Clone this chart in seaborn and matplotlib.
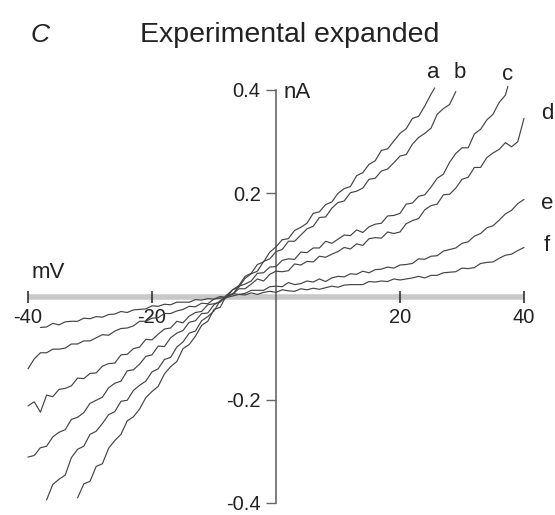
import matplotlib
matplotlib.use("Agg")
import matplotlib.pyplot as plt
import pandas as pd
import seaborn as sns

# ---- data (membrane potential in mV, current in nA) ----
a_mv = list(range(-32, 26)) + [25.6]
a_na = [-0.390, -0.363, -0.358, -0.329, -0.324, -0.294, -0.279, -0.267, -0.241, -0.233,
        -0.218, -0.196, -0.184, -0.174, -0.150, -0.136, -0.126, -0.101, -0.093, -0.077,
        -0.056, -0.048, -0.025, -0.021, 0.002, 0.013, 0.021, 0.039, 0.045, 0.062,
        0.067, 0.086, 0.096, 0.110, 0.112, 0.128, 0.134, 0.142, 0.161, 0.164,
        0.178, 0.183, 0.200, 0.209, 0.213, 0.234, 0.240, 0.256, 0.263, 0.283,
        0.286, 0.301, 0.316, 0.325, 0.345, 0.349, 0.369, 0.392, 0.404]

b_mv = list(range(-37, 30))
b_na = [-0.394, -0.364, -0.354, -0.346, -0.312, -0.296, -0.290, -0.267, -0.261, -0.246,
        -0.229, -0.223, -0.203, -0.201, -0.182, -0.172, -0.164, -0.146, -0.140, -0.122,
        -0.118, -0.098, -0.088, -0.071, -0.067, -0.047, -0.039, -0.028, -0.008, -0.002,
        0.013, 0.018, 0.035, 0.044, 0.049, 0.068, 0.073, 0.087, 0.091, 0.107,
        0.107, 0.119, 0.131, 0.136, 0.153, 0.154, 0.171, 0.182, 0.185, 0.201,
        0.204, 0.210, 0.227, 0.229, 0.243, 0.247, 0.259, 0.272, 0.275, 0.295,
        0.308, 0.316, 0.326, 0.353, 0.364, 0.372, 0.397]

c_mv = list(range(-40, 38)) + [37.4]
c_na = [-0.311, -0.308, -0.293, -0.290, -0.272, -0.263, -0.258, -0.238, -0.234, -0.225,
        -0.207, -0.201, -0.195, -0.177, -0.168, -0.164, -0.144, -0.142, -0.131, -0.116,
        -0.113, -0.096, -0.097, -0.080, -0.071, -0.066, -0.050, -0.047, -0.033, -0.032,
        -0.016, -0.009, 0.002, 0.004, 0.020, 0.024, 0.030, 0.045, 0.046, 0.057,
        0.058, 0.070, 0.073, 0.072, 0.086, 0.085, 0.094, 0.094, 0.107, 0.103,
        0.111, 0.119, 0.118, 0.129, 0.124, 0.135, 0.140, 0.142, 0.156, 0.157,
        0.161, 0.179, 0.181, 0.194, 0.197, 0.212, 0.229, 0.237, 0.260, 0.277,
        0.288, 0.288, 0.315, 0.324, 0.342, 0.353, 0.376, 0.390, 0.407]

d_mv = list(range(-40, 41))
d_na = [-0.212, -0.204, -0.224, -0.191, -0.194, -0.180, -0.178, -0.173, -0.158, -0.159,
        -0.149, -0.148, -0.135, -0.130, -0.129, -0.113, -0.112, -0.101, -0.098, -0.083,
        -0.084, -0.073, -0.063, -0.061, -0.048, -0.051, -0.038, -0.031, -0.029, -0.016,
        -0.014, -0.011, 0.001, 0.004, 0.015, 0.015, 0.024, 0.034, 0.030, 0.043,
        0.049, 0.048, 0.050, 0.063, 0.061, 0.068, 0.067, 0.078, 0.076, 0.082,
        0.087, 0.095, 0.092, 0.102, 0.099, 0.112, 0.114, 0.113, 0.125, 0.122,
        0.125, 0.141, 0.147, 0.151, 0.168, 0.176, 0.179, 0.197, 0.198, 0.210,
        0.227, 0.231, 0.250, 0.250, 0.269, 0.278, 0.285, 0.298, 0.290, 0.300,
        0.345]

e_mv = list(range(-40, 41))
e_na = [-0.140, -0.121, -0.109, -0.109, -0.102, -0.102, -0.100, -0.092, -0.092, -0.086,
        -0.086, -0.080, -0.074, -0.075, -0.067, -0.062, -0.061, -0.057, -0.048, -0.048,
        -0.042, -0.041, -0.033, -0.033, -0.028, -0.025, -0.019, -0.020, -0.013, -0.014,
        -0.005, -0.003, -0.002, 0.006, 0.004, 0.006, 0.012, 0.012, 0.012, 0.019,
        0.020, 0.019, 0.027, 0.023, 0.025, 0.030, 0.028, 0.034, 0.029, 0.036,
        0.039, 0.038, 0.044, 0.043, 0.049, 0.046, 0.052, 0.053, 0.057, 0.055,
        0.061, 0.062, 0.064, 0.073, 0.072, 0.078, 0.079, 0.088, 0.091, 0.094,
        0.103, 0.106, 0.117, 0.122, 0.133, 0.137, 0.148, 0.160, 0.167, 0.180,
        0.188]

f_mv = list(range(-38, 41))
f_na = [-0.060, -0.059, -0.052, -0.055, -0.049, -0.048, -0.048, -0.042, -0.043, -0.039,
        -0.040, -0.035, -0.034, -0.029, -0.031, -0.026, -0.025, -0.024, -0.018, -0.019,
        -0.015, -0.016, -0.011, -0.011, -0.011, -0.006, -0.007, -0.004, -0.005, 0.000,
        -0.002, 0.001, 0.004, 0.003, 0.007, 0.004, 0.008, 0.010, 0.008, 0.013,
        0.011, 0.010, 0.015, 0.013, 0.016, 0.014, 0.017, 0.020, 0.018, 0.022,
        0.023, 0.023, 0.023, 0.029, 0.028, 0.030, 0.029, 0.034, 0.032, 0.034,
        0.036, 0.039, 0.036, 0.041, 0.041, 0.046, 0.047, 0.048, 0.055, 0.054,
        0.056, 0.064, 0.066, 0.067, 0.074, 0.080, 0.082, 0.089, 0.095]

trace_names = ["a", "b", "c", "d", "e", "f"]
x_ticks = [-40, -20, 20, 40]
y_ticks = [-0.4, -0.2, 0.2, 0.4]
y_tick_labels = ["-0.4", "-0.2", "0.2", "0.4"]
title_text = "Experimental expanded"
panel_letter = "C"

# ---- long-form table for seaborn ----
frames = []
for name, xs, ys in zip(trace_names,
                        [a_mv, b_mv, c_mv, d_mv, e_mv, f_mv],
                        [a_na, b_na, c_na, d_na, e_na, f_na]):
    frames.append(pd.DataFrame({"mV": xs, "nA": ys, "trace": name}))
df = pd.concat(frames, ignore_index=True)

sns.set_theme(style="white")
plt.rcParams["font.family"] = ["Liberation Sans", "DejaVu Sans"]

fig = plt.figure(figsize=(5.55, 5.15), dpi=100)
ax = fig.add_axes([28 / 555, 12 / 515, 496 / 555, 413 / 515])
ax.set_axisbelow(False)

sns.lineplot(data=df, x="mV", y="nA", hue="trace", estimator=None, sort=False,
             palette=["#444444"] * 6, linewidth=0.85, legend=False, ax=ax, zorder=3)
for ln in ax.lines:
    ln.set_clip_on(False)

ax.set_xlim(-40, 40)
ax.set_ylim(-0.4, 0.4)
ax.set_xlabel("")
ax.set_ylabel("")

for s in ["top", "right"]:
    ax.spines[s].set_visible(False)
ax.spines["left"].set_position(("data", 0))
ax.spines["bottom"].set_position(("data", 0))
ax.spines["bottom"].set_color("#c8c8c8")
ax.spines["bottom"].set_linewidth(4.0)
ax.spines["bottom"].set_capstyle("butt")
ax.spines["bottom"].set_zorder(1)
ax.spines["left"].set_color("#5a5a5a")
ax.spines["left"].set_linewidth(1.1)

ax.set_xticks(x_ticks)
ax.set_xticklabels([str(v) for v in x_ticks])
ax.set_yticks(y_ticks)
ax.set_yticklabels(y_tick_labels)
ax.tick_params(axis="x", direction="inout", length=9, width=1.2, color="#333333",
               pad=4, labelsize=14.5, labelcolor="#222222", bottom=True)
ax.tick_params(axis="y", direction="out", length=7, width=1, color="#666666",
               pad=4, labelsize=14.5, labelcolor="#222222", left=True)
ax.grid(False)

# axis unit labels
ax.text(-36.8, 0.047, "mV", fontsize=16, ha="center", va="center", color="#222222")
ax.text(1.3, 0.396, "nA", fontsize=16, ha="left", va="center", color="#222222")

# trace labels
label_pos = {"a": (25.3, 0.433), "b": (29.7, 0.433), "c": (37.4, 0.43),
             "d": (43.7, 0.355), "e": (43.7, 0.18), "f": (43.7, 0.099)}
for name in trace_names:
    x, y = label_pos[name]
    ax.text(x, y, name, fontsize=16, ha="center", va="center", color="#222222",
            clip_on=False)

fig.text(0.522, 0.932, title_text, fontsize=20.5, ha="center", va="center",
         color="#222222")
fig.text(0.072, 0.932, panel_letter, fontsize=19, style="italic", ha="center",
         va="center", color="#222222")

fig.savefig("out.png", dpi=100, facecolor="white")
